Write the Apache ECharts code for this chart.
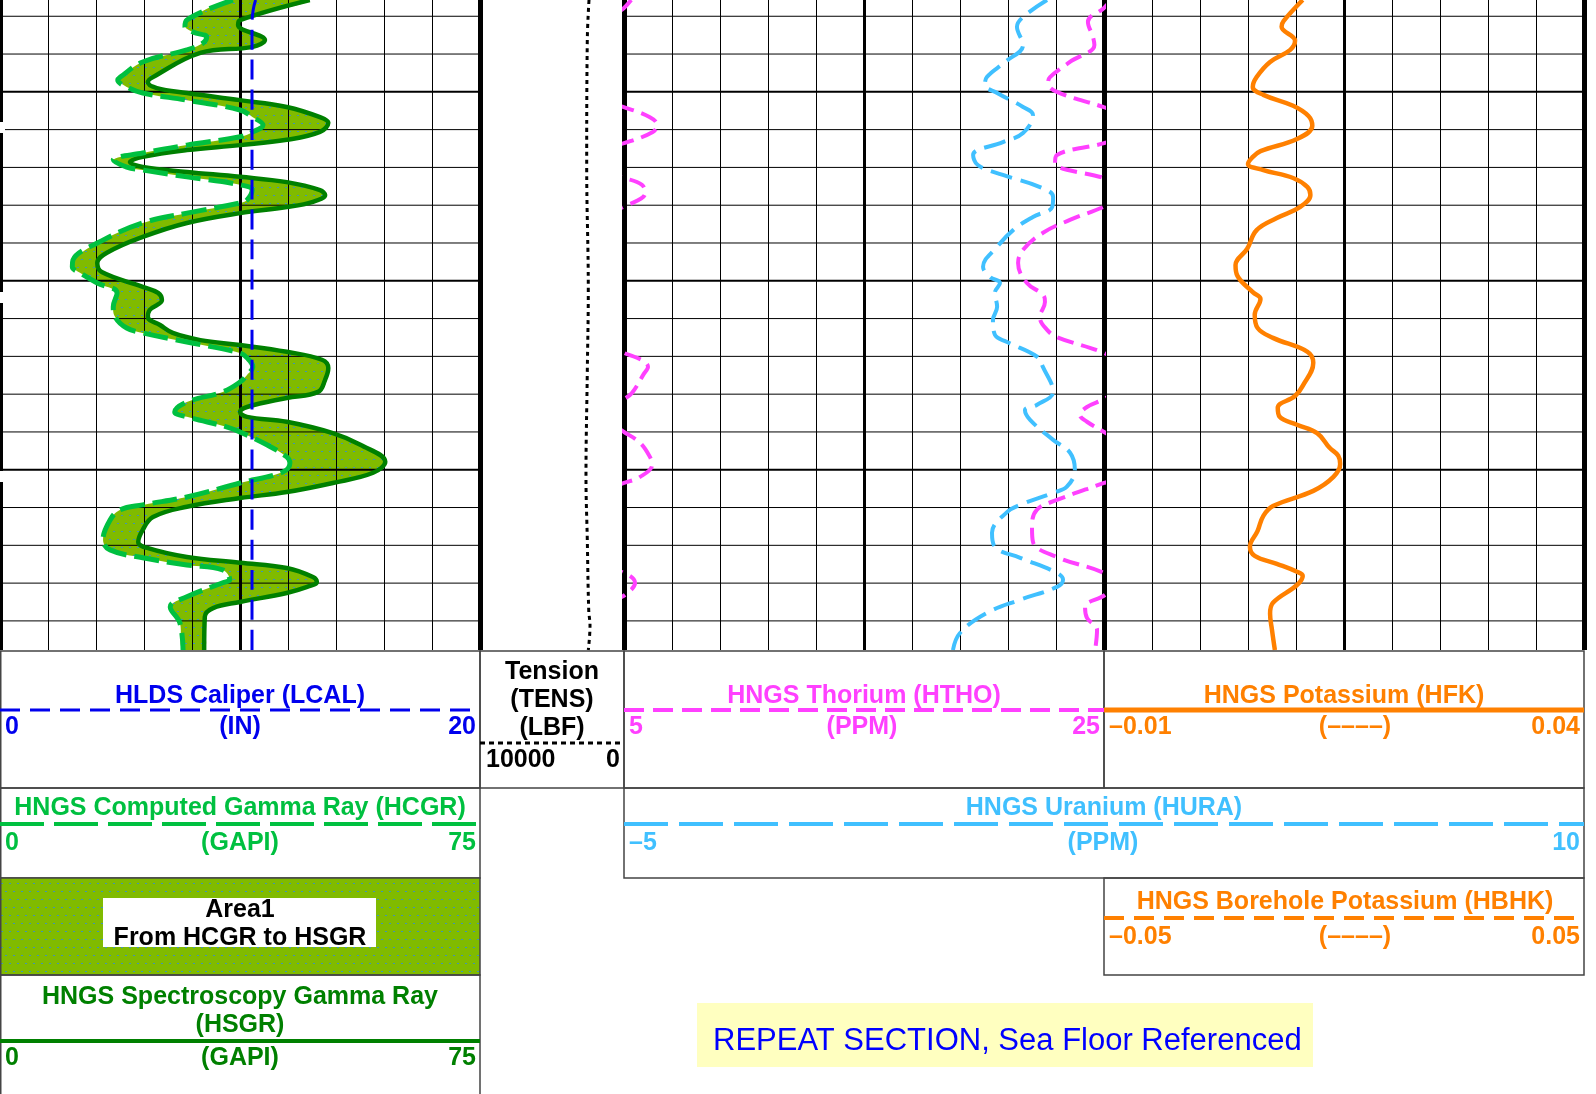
<!DOCTYPE html>
<html>
<head>
<meta charset="utf-8">
<script src="https://cdn.jsdelivr.net/npm/echarts@6/dist/echarts.min.js"></script>
<style>
  html, body { margin: 0; padding: 0; background: #ffffff; }
  #log { width: 1596px; height: 1094px; }
</style>
</head>
<body>
<div id="log"></div>
<script>
// ---- depth window (m) and depth grid ----
const DEPTH_TOP = 1262.57;
const DEPTH_BOTTOM = 1279.77;
const DEPTH_GRID = [1263, 1264, 1265, 1266, 1267, 1268, 1269, 1270, 1271, 1272, 1273, 1274, 1275, 1276, 1277, 1278, 1279];

// ---- HNGS Spectroscopy Gamma Ray (GAPI) ----
const HSGR_DEPTH = [1262.57, 1263.10, 1263.23, 1263.63, 1263.81, 1263.97, 1264.61, 1264.74, 1264.90, 1265.03,
  1265.22, 1265.40, 1265.67, 1265.82, 1266.06, 1266.27, 1266.41, 1266.54, 1266.72, 1266.86,
  1266.99, 1267.12, 1267.25, 1267.39, 1267.60, 1267.73, 1267.91, 1268.05, 1268.21, 1268.47,
  1268.84, 1269.26, 1269.53, 1269.77, 1270.16, 1270.32, 1270.51, 1270.77, 1270.96, 1271.17,
  1271.38, 1271.57, 1271.70, 1271.88, 1272.09, 1272.31, 1272.62, 1272.94, 1273.10, 1273.34,
  1273.47, 1273.60, 1273.73, 1274.03, 1274.34, 1274.79, 1275.08, 1275.35, 1275.59, 1275.75,
  1275.98, 1276.25, 1276.59, 1276.91, 1277.07, 1277.31, 1277.46, 1277.60, 1277.84, 1277.97,
  1278.10, 1278.26, 1278.50, 1278.66, 1278.89, 1279.77];
const HSGR_GAPI = [48.4, 37.5, 37.2, 41.4, 39.5, 31.3, 23.9, 23.1, 24.5, 29.2,
  37.5, 44.8, 50.0, 51.3, 50.0, 44.8, 37.5, 29.2, 22.3, 20.3,
  22.3, 29.2, 37.5, 44.8, 50.0, 50.8, 48.9, 44.8, 37.5, 29.2,
  22.3, 16.7, 15.2, 15.9, 22.3, 24.7, 25.3, 23.4, 23.1, 25.0,
  27.0, 31.3, 37.5, 44.8, 50.3, 51.3, 50.8, 49.7, 44.8, 38.6,
  37.5, 38.6, 44.8, 52.0, 56.3, 60.2, 58.3, 52.0, 44.8, 37.5,
  29.2, 23.9, 22.3, 21.6, 23.0, 29.2, 37.5, 44.8, 48.9, 49.5,
  48.0, 44.8, 37.5, 33.3, 32.0, 31.9];

// ---- HNGS Computed Gamma Ray (GAPI) ----
const HCGR_DEPTH = [1262.57, 1263.10, 1263.28, 1263.42, 1263.55, 1263.71, 1263.89, 1264.21, 1264.61, 1264.69,
  1264.87, 1265.03, 1265.22, 1265.48, 1265.67, 1265.88, 1266.06, 1266.19, 1266.41, 1266.62,
  1266.80, 1266.99, 1267.07, 1267.25, 1267.46, 1267.60, 1267.86, 1267.94, 1268.21, 1268.47,
  1269.00, 1269.45, 1269.63, 1269.79, 1270.06, 1270.32, 1270.69, 1270.96, 1271.25, 1271.38,
  1271.62, 1271.91, 1272.04, 1272.28, 1272.49, 1272.68, 1272.94, 1273.21, 1273.47, 1273.60,
  1273.87, 1274.00, 1274.34, 1274.66, 1274.82, 1275.06, 1275.35, 1275.72, 1275.93, 1276.06,
  1276.33, 1276.86, 1277.12, 1277.33, 1277.52, 1277.65, 1277.91, 1277.99, 1278.36, 1278.63,
  1279.05, 1279.77];
const HCGR_GAPI = [36.4, 29.2, 28.9, 30.2, 32.3, 31.7, 29.2, 22.3, 18.8, 18.4,
  19.8, 22.3, 29.2, 37.5, 39.5, 41.1, 39.5, 37.5, 29.2, 22.3,
  17.7, 19.8, 22.3, 29.2, 37.5, 39.4, 38.6, 37.5, 29.2, 22.3,
  15.2, 11.4, 11.3, 12.5, 15.2, 18.3, 17.7, 18.0, 19.8, 22.3,
  29.2, 37.5, 38.6, 39.5, 38.6, 37.5, 34.8, 29.2, 27.3, 29.2,
  35.5, 37.5, 41.7, 44.8, 45.3, 44.2, 37.5, 29.2, 22.3, 18.8,
  17.2, 16.1, 17.2, 22.3, 29.2, 34.8, 35.9, 34.8, 29.2, 26.6,
  28.1, 28.6];

// ---- HLDS Caliper (IN) ----
const LCAL_DEPTH = [1262.57, 1262.83, 1263.23, 1265.0, 1270.5, 1275.0, 1279.77];
const LCAL_IN = [10.65, 10.55, 10.5, 10.5, 10.5, 10.5, 10.5];

// ---- Tension (LBF) ----
const TENS_DEPTH = [1262.57, 1263.65, 1266.96, 1270.24, 1272.44, 1275.19, 1276.83, 1278.71, 1279.13, 1279.77];
const TENS_LBF = [2430, 2550, 2590, 2480, 2550, 2640, 2550, 2450, 2360, 2480];

// ---- HNGS Thorium (PPM) ----
const HTHO_DEPTH = [1262.57, 1262.78, 1263.15, 1263.55, 1263.76, 1264.21, 1264.61, 1264.77, 1265.00, 1265.40,
  1265.67, 1265.88, 1266.06, 1266.35, 1266.67, 1266.88, 1267.28, 1267.46, 1267.68, 1267.99,
  1268.39, 1268.73, 1269.18, 1269.53, 1270.06, 1270.37, 1270.56, 1270.96, 1271.30, 1271.49,
  1271.91, 1272.28, 1272.49, 1272.97, 1273.13, 1273.34, 1273.55, 1273.73, 1274.00, 1274.29,
  1274.66, 1274.87, 1275.19, 1275.35, 1275.80, 1276.06, 1276.51, 1276.91, 1277.31, 1277.73,
  1277.99, 1278.31, 1278.63, 1278.92, 1279.24, 1279.77];
const HTHO_PPM = [25.3, 25.0, 24.33, 24.54, 24.6, 23.58, 22.75, 22.67, 23.04, 24.96,
  26.08, 26.38, 26.2, 25.04, 23.04, 22.96, 25.0, 25.75, 25.88, 25.17,
  23.58, 22.46, 21.63, 21.42, 21.79, 22.46, 22.54, 22.33, 22.63, 23.04,
  25.0, 26.0, 25.8, 25.33, 25.0, 24.29, 24.0, 24.29, 25.0, 25.67,
  26.08, 26.17, 25.67, 25.0, 23.04, 22.2, 22.0, 22.04, 23.04, 25.0,
  25.46, 25.05, 24.21, 24.29, 24.71, 24.63];

// ---- HNGS Uranium (PPM) ----
const HURA_DEPTH = [1262.57, 1263.02, 1263.28, 1263.76, 1264.21, 1264.61, 1264.82, 1265.03, 1265.40, 1265.61,
  1266.09, 1266.33, 1266.67, 1266.94, 1267.20, 1267.52, 1267.78, 1268.05, 1268.31, 1268.66,
  1269.10, 1269.63, 1269.90, 1270.06, 1270.32, 1270.69, 1271.04, 1271.43, 1271.62, 1272.01,
  1272.28, 1272.94, 1273.28, 1273.42, 1273.68, 1274.21, 1274.55, 1275.00, 1275.45, 1275.61,
  1275.93, 1276.12, 1276.67, 1277.04, 1277.33, 1277.73, 1277.91, 1278.10, 1278.44, 1278.79,
  1279.32, 1279.77];
const HURA_PPM = [8.22, 7.47, 7.28, 7.47, 6.91, 6.34, 6.28, 6.66, 7.47, 7.78,
  7.47, 6.84, 5.91, 6.06, 6.84, 8.0, 8.41, 8.38, 7.78, 7.16,
  6.66, 6.22, 6.44, 6.75, 6.59, 6.66, 6.53, 6.59, 6.97, 7.91,
  8.09, 8.41, 7.91, 7.53, 7.69, 8.41, 8.94, 9.09, 8.84, 8.41,
  7.38, 6.97, 6.5, 6.59, 7.38, 8.53, 8.72, 8.53, 7.38, 6.34,
  5.5, 5.28];

// ---- HNGS Potassium (dimensionless) ----
const HFK_DEPTH = [1262.57, 1263.13, 1263.28, 1263.65, 1263.89, 1264.21, 1264.61, 1264.87, 1265.08, 1265.37,
  1265.64, 1265.90, 1266.25, 1266.57, 1266.75, 1266.91, 1267.07, 1267.28, 1267.52, 1267.73,
  1268.05, 1268.34, 1268.66, 1269.16, 1269.58, 1269.87, 1270.30, 1270.48, 1270.90, 1271.25,
  1271.51, 1271.88, 1272.17, 1272.78, 1273.05, 1273.36, 1273.60, 1273.81, 1274.03, 1274.42,
  1274.63, 1274.85, 1275.19, 1275.56, 1275.96, 1276.22, 1276.62, 1277.04, 1277.28, 1277.49,
  1277.70, 1277.81, 1278.05, 1278.52, 1278.81, 1279.24, 1279.77];
const HFK_VAL = [0.0107, 0.0087, 0.0085, 0.0099, 0.0094, 0.0073, 0.0059, 0.0055, 0.0066, 0.0097,
  0.0113, 0.0117, 0.0101, 0.0063, 0.0054, 0.0050, 0.0066, 0.0097, 0.0112, 0.0115,
  0.0104, 0.0080, 0.0059, 0.0049, 0.0037, 0.0039, 0.0055, 0.0063, 0.0057, 0.0060,
  0.0076, 0.0112, 0.0118, 0.0107, 0.0099, 0.0081, 0.0083, 0.0101, 0.0122, 0.0135,
  0.0144, 0.0146, 0.0139, 0.0118, 0.0076, 0.0066, 0.0060, 0.0052, 0.0057, 0.0080,
  0.0101, 0.0107, 0.0101, 0.0076, 0.0073, 0.0075, 0.0078];

// ---- track scales ----
const SCALE_LCAL = [0, 20];
const SCALE_GR = [0, 75];
const SCALE_TENS = [0, 10000];
const SCALE_HTHO = [5, 25];
const SCALE_HTHO_BACKUP = [25, 45];
const SCALE_HURA = [-5, 10];
const SCALE_HFK = [-0.01, 0.04];

// ---- colours ----
const C_LCAL = '#0000ee';
const C_HCGR = '#00c040';
const C_HSGR = '#008000';
const C_HTHO = '#ff40ff';
const C_HURA = '#40c0ff';
const C_HFK = '#ff8000';
const FONT = '"Liberation Sans", Arial, Helvetica, sans-serif';

// green fill with a staggered blue dot texture (HCGR -> HSGR area)
function dotPattern() {
  const c = document.createElement('canvas');
  c.width = 8; c.height = 16;
  const g = c.getContext('2d');
  g.fillStyle = '#80bb00';
  g.fillRect(0, 0, 8, 16);
  g.fillStyle = '#3f93b8';
  g.fillRect(1, 3, 2, 1);
  g.fillRect(5, 11, 2, 1);
  return { image: c, repeat: 'repeat' };
}
const AREA_FILL = dotPattern();

// ---- layout ----
const PLOT_H = 650;
const TRACKS = [
  { left: 0, width: 480 },     // gamma ray + caliper
  { left: 480, width: 144 },   // tension
  { left: 624, width: 480 },   // thorium + uranium
  { left: 1104, width: 480 }   // potassium
];

const grids = TRACKS.map(t => ({
  left: t.left, top: 0, width: t.width, height: PLOT_H,
  outerBoundsMode: 'none', containLabel: false, show: false
}));

// ten divisions per track: thin every division, heavier at middle, heaviest at the edges
function divisionAxes(gridIndex) {
  return [[1, 1], [5, 3], [10, 5]].map(([step, w]) => ({
    gridIndex, type: 'value', min: 0, max: 10, interval: step, z: 3,
    axisLine: { show: false }, axisTick: { show: false }, axisLabel: { show: false },
    splitLine: { show: true, lineStyle: { color: '#000', width: w } }
  }));
}
function curveAxis(gridIndex, range, inverse) {
  return { gridIndex, type: 'value', min: range[0], max: range[1], inverse: !!inverse, show: false };
}

const xAxes = [
  ...divisionAxes(0),                 // 0,1,2
  curveAxis(0, SCALE_LCAL),           // 3
  curveAxis(0, SCALE_GR),             // 4
  curveAxis(1, SCALE_TENS, true),     // 5
  ...divisionAxes(2),                 // 6,7,8
  curveAxis(2, SCALE_HTHO),           // 9
  curveAxis(2, SCALE_HTHO_BACKUP),    // 10
  curveAxis(2, SCALE_HURA),           // 11
  ...divisionAxes(3),                 // 12,13,14
  curveAxis(3, SCALE_HFK)             // 15
];
const yAxes = TRACKS.map((t, i) => ({
  gridIndex: i, type: 'value', min: DEPTH_TOP, max: DEPTH_BOTTOM, inverse: true, show: false
}));

// horizontal depth lines, heavier every 5 m
function depthLines(xi, yi) {
  return {
    type: 'custom', xAxisIndex: xi, yAxisIndex: yi, z: 3, silent: true, clip: true,
    data: DEPTH_GRID.map(d => [0, d]),
    renderItem(params, api) {
      const cs = params.coordSys;
      const y = api.coord([api.value(0), api.value(1)])[1];
      const heavy = api.value(1) % 5 === 0;
      return {
        type: 'line',
        shape: { x1: cs.x, y1: y, x2: cs.x + cs.width, y2: y },
        style: { stroke: '#000', lineWidth: heavy ? 2 : 1 }
      };
    }
  };
}

function curve(name, xi, yi, vals, depths, color, width, dash, z) {
  return {
    type: 'line', name, xAxisIndex: xi, yAxisIndex: yi,
    data: vals.map((v, i) => [v, depths[i]]),
    showSymbol: false, symbol: 'none', smooth: 0.4, clip: true, silent: true,
    z: z || 5,
    lineStyle: { color, width, type: dash || 'solid', cap: 'butt', join: 'round' }
  };
}

const grArea = {
  type: 'custom', name: 'Area1', xAxisIndex: 4, yAxisIndex: 0, z: 2, silent: true, clip: true,
  data: [[HCGR_GAPI[0], HCGR_DEPTH[0]]],
  renderItem(params, api) {
    const pts = [];
    HCGR_DEPTH.forEach((d, i) => pts.push(api.coord([HCGR_GAPI[i], d])));
    for (let i = HSGR_DEPTH.length - 1; i >= 0; i--) pts.push(api.coord([HSGR_GAPI[i], HSGR_DEPTH[i]]));
    return { type: 'polygon', shape: { points: pts, smooth: 0.4 }, style: { fill: AREA_FILL, stroke: null } };
  }
};

const series = [
  depthLines(0, 0),
  depthLines(6, 2),
  depthLines(12, 3),
  grArea,
  curve('HSGR', 4, 0, HSGR_GAPI, HSGR_DEPTH, C_HSGR, 4.5, 'solid', 6),
  curve('HCGR', 4, 0, HCGR_GAPI, HCGR_DEPTH, C_HCGR, 5, [25, 8], 7),
  curve('LCAL', 3, 0, LCAL_IN, LCAL_DEPTH, C_LCAL, 3, [20, 10], 8),
  curve('TENS', 5, 1, TENS_LBF, TENS_DEPTH, '#000', 3, [4, 4]),
  curve('HTHO', 9, 2, HTHO_PPM, HTHO_DEPTH, C_HTHO, 4, [17, 8]),
  curve('HTHO backup', 10, 2, HTHO_PPM, HTHO_DEPTH, C_HTHO, 4, [17, 8]),
  curve('HURA', 11, 2, HURA_PPM, HURA_DEPTH, C_HURA, 4, [22, 9]),
  curve('HFK', 15, 3, HFK_VAL, HFK_DEPTH, C_HFK, 4.5, 'solid')
];

// ---- header (curve legends) ----
const G = [];
function box(x, y, w, h, fill) {
  G.push({ type: 'rect', z: 50, shape: { x, y, width: w, height: h },
    style: { fill: fill || 'none', stroke: '#444', lineWidth: 1.5 } });
}
function rule(x1, x2, y, color, width, dash) {
  G.push({ type: 'line', z: 52, shape: { x1, y1: y, x2, y2: y },
    style: { stroke: color, lineWidth: width, lineDash: dash || null, lineCap: 'butt' } });
}
function label(x, y, text, color, align, opts) {
  const o = opts || {};
  const font = (o.weight || 'bold') + ' ' + (o.size || 25) + 'px ' + FONT;
  G.push({ type: 'text', z: 55, x, y,
    style: { text, fill: color, font, align: align || 'center', textAlign: align || 'center',
      verticalAlign: 'middle', textVerticalAlign: 'middle' } });
}
function scaleRow(left, right, y, lo, unit, hi, color, unitX) {
  label(left + 5, y, lo, color, 'left');
  label(unitX != null ? unitX : (left + right) / 2, y, unit, color, 'center');
  label(right - 4, y, hi, color, 'right');
}

// boxes
box(0.75, 651, 479.25, 137);
box(480, 651, 144, 137);
box(624, 651, 480, 137);
box(1104, 651, 480, 137);
box(0.75, 788, 479.25, 90);
box(624, 788, 960, 90);
box(0.75, 878, 479.25, 97, AREA_FILL);
box(0.75, 975, 479.25, 130);
box(1104, 878, 480, 97);

// caliper
label(240, 696, 'HLDS Caliper (LCAL)', C_LCAL);
rule(0, 480, 710, C_LCAL, 3, [20, 10]);
scaleRow(0, 480, 727, '0', '(IN)', '20', C_LCAL);

// tension
label(552, 672, 'Tension', '#000');
label(552, 700, '(TENS)', '#000');
label(552, 728, '(LBF)', '#000');
rule(480, 624, 743, '#000', 3, [5, 4]);
label(486, 760, '10000', '#000', 'left');
label(620, 760, '0', '#000', 'right');

// computed gamma ray
label(240, 808, 'HNGS Computed Gamma Ray (HCGR)', C_HCGR);
rule(0, 480, 824, C_HCGR, 4, [44, 10]);
scaleRow(0, 480, 843, '0', '(GAPI)', '75', C_HCGR);

// area legend
G.push({ type: 'rect', z: 53, shape: { x: 103, y: 898, width: 273, height: 49 }, style: { fill: '#fff' } });
label(240, 910, 'Area1', '#000');
label(240, 938, 'From HCGR to HSGR', '#000');

// spectroscopy gamma ray
label(240, 997, 'HNGS Spectroscopy Gamma Ray', C_HSGR);
label(240, 1025, '(HSGR)', C_HSGR);
rule(0, 480, 1041, C_HSGR, 4);
scaleRow(0, 480, 1058, '0', '(GAPI)', '75', C_HSGR);

// thorium
label(864, 696, 'HNGS Thorium (HTHO)', C_HTHO);
rule(624, 1104, 710, C_HTHO, 4, [20, 9]);
scaleRow(624, 1104, 727, '5', '(PPM)', '25', C_HTHO, 862);

// potassium
label(1344, 696, 'HNGS Potassium (HFK)', C_HFK);
rule(1104, 1584, 710, C_HFK, 5);
scaleRow(1104, 1584, 727, '\u20130.01', '(\u2013\u2013\u2013\u2013)', '0.04', C_HFK, 1355);

// uranium
label(1104, 808, 'HNGS Uranium (HURA)', C_HURA);
rule(624, 1584, 824, C_HURA, 4, [44, 11]);
scaleRow(624, 1584, 843, '\u20135', '(PPM)', '10', C_HURA, 1103);

// borehole potassium
label(1345, 902, 'HNGS Borehole Potassium (HBHK)', C_HFK);
rule(1104, 1584, 918, C_HFK, 4, [20, 10]);
scaleRow(1104, 1584, 937, '\u20130.05', '(\u2013\u2013\u2013\u2013)', '0.05', C_HFK, 1355);

// section note
G.push({ type: 'rect', z: 50, shape: { x: 697, y: 1003, width: 616, height: 64 }, style: { fill: '#ffffc0' } });
label(713, 1041, 'REPEAT SECTION, Sea Floor Referenced', '#0000ff', 'left', { weight: 'normal', size: 31 });

// depth marks on the left frame
[[122, 11], [292, 11], [471, 11]].forEach(([y, h]) => {
  G.push({ type: 'rect', z: 60, shape: { x: 0, y, width: 5, height: h }, style: { fill: '#fff' } });
});

const chart = echarts.init(document.getElementById('log'), null, { renderer: 'canvas' });
chart.setOption({
  animation: false,
  backgroundColor: '#ffffff',
  grid: grids,
  xAxis: xAxes,
  yAxis: yAxes,
  series,
  graphic: { elements: G }
});
</script>
</body>
</html>
